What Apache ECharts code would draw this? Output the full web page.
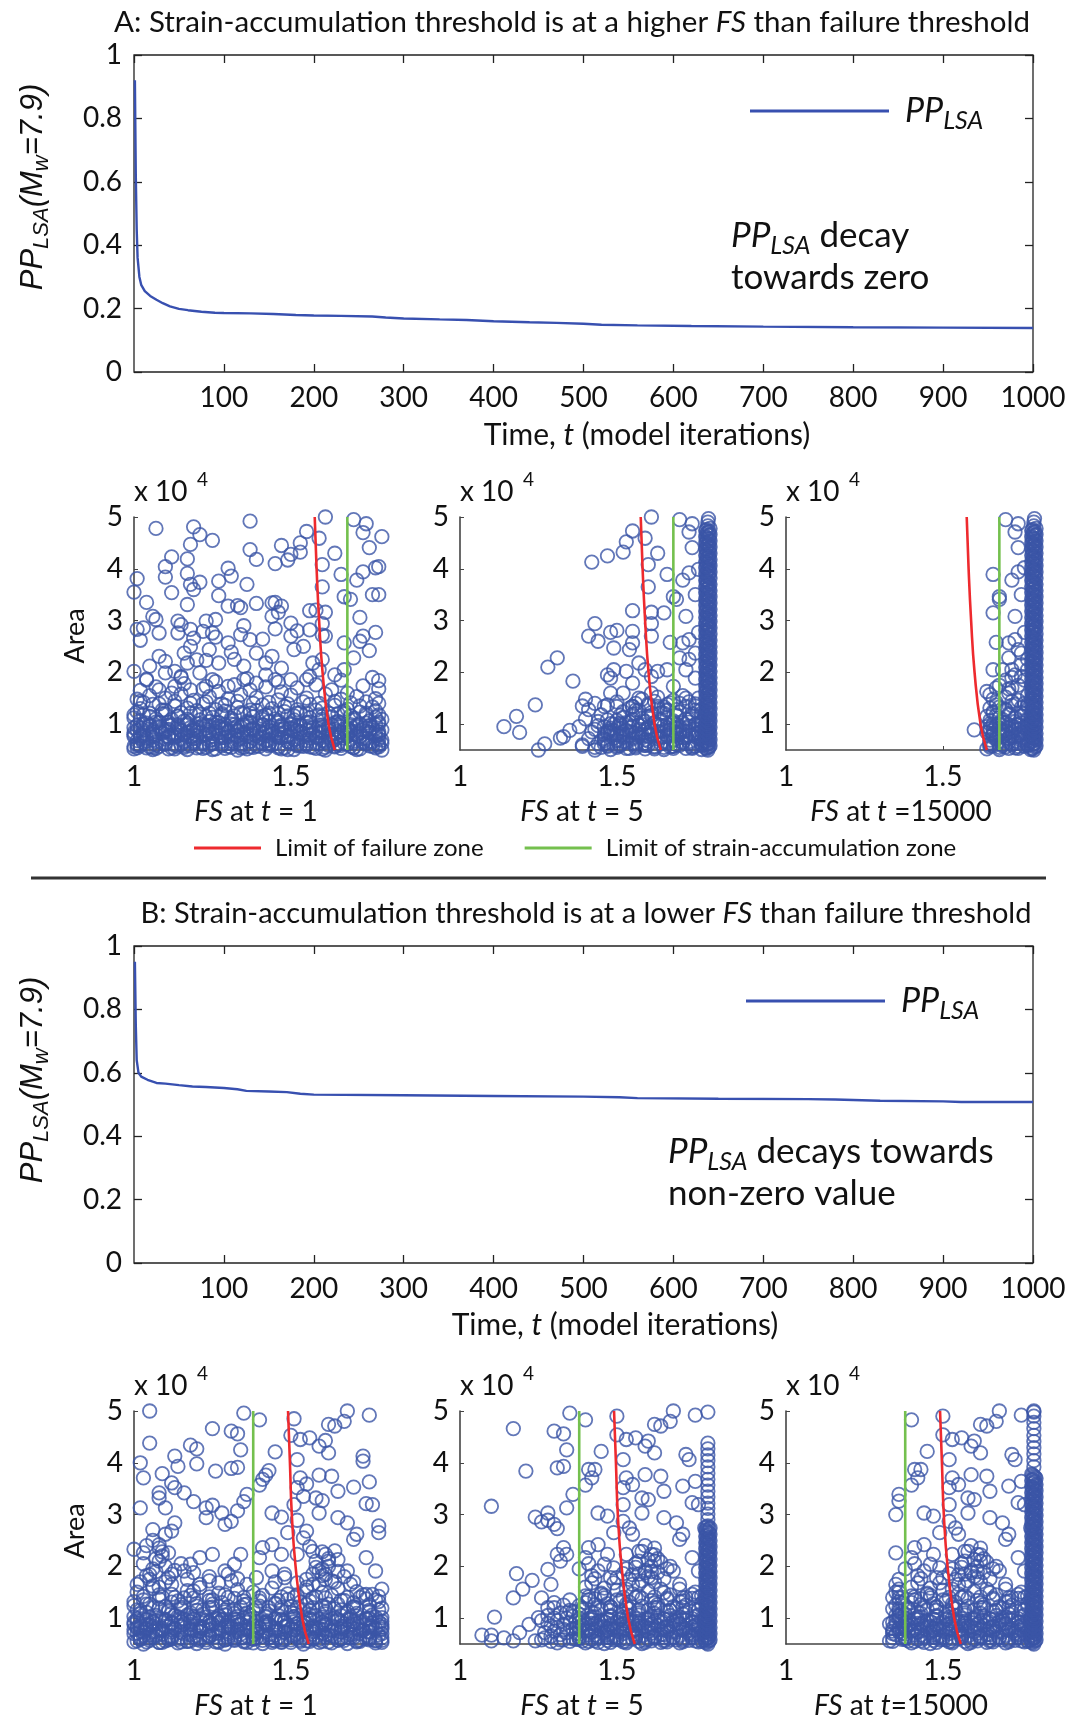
<!DOCTYPE html>
<html><head><meta charset="utf-8">
<script src="https://cdn.jsdelivr.net/npm/echarts@6/dist/echarts.min.js"></script>
<style>html,body{margin:0;padding:0;background:#fff}#c{width:1070px;height:1721px}</style>
</head><body><div id="c"></div>
<script>
// ---------- time series (t, PP_LSA) ----------
const timeA = [1,2,3,4,6,8,12,18,25,32,40,50,60,75,90,100,130,155,180,200,230,265,280,300,340,370,400,440,470,500,520,560,620,700,800,900,1000];
const ppA   = [0.92,0.62,0.45,0.36,0.30,0.275,0.255,0.24,0.228,0.217,0.207,0.199,0.195,0.19,0.187,0.186,0.185,0.183,0.18,0.178,0.177,0.175,0.172,0.169,0.166,0.164,0.16,0.157,0.155,0.152,0.149,0.147,0.145,0.143,0.141,0.14,0.139];
const timeB = [1,2,3,5,8,15,25,35,50,65,80,100,115,125,150,170,185,200,300,400,500,540,560,650,750,780,830,900,920,1000];
const ppB   = [0.95,0.75,0.64,0.60,0.588,0.578,0.568,0.566,0.561,0.557,0.555,0.552,0.548,0.543,0.541,0.539,0.534,0.531,0.529,0.527,0.525,0.523,0.52,0.518,0.517,0.516,0.512,0.51,0.508,0.508];

// ---------- threshold curves (FS, Area x10^4) ----------
const failA_fs   = [1.576,1.582,1.590,1.601,1.620,1.640];
const failA_area = [5,4,3,2,1,0.5];
const strainA_fs = 1.68;
const failB_fs   = [1.491,1.497,1.503,1.515,1.536,1.557];
const failB_area = [5,4,3,2,1,0.5];
const strainB_fs = 1.38;

// ---------- scatter points: flat pairs (FS*100, Area/100) ----------
const a1Sparse = [107,478,137,492,119,481,121,466,125,455,118,447,112,423,117,419,110,404,110,384,117,391,101,381,100,355,104,335,112,354,118,370,119,360,121,374,127,376,127,348,130,401,131,386,136,370,117,331,139,333,145,335,137,437,139,418,147,445,145,410,149,417,150,428,153,432,153,450,155,472,161,500,159,459,164,430,160,408,166,389,170,495,174,487,173,470,175,441,179,462,173,394,171,378,177,402,178,404,176,350,178,350,167,346,169,341,160,365,161,316,156,319,160,294,172,306,177,277,167,257,172,260,173,270,175,242,170,228,178,184,167,205,164,195,161,270,156,282,152,280,150,295,145,284,144,308,144,334,146,316,147,328,134,325,133,329,130,328,135,290,134,273,137,263,141,264,126,302,123,299,125,276,126,268,122,279,119,266,118,250,116,237,117,218,120,224,123,223,127,218,124,244,114,299,115,292,106,308,107,302,101,283,103,286,102,262,108,276,108,231,110,221,105,212,100,202,104,187,110,199,113,202,115,192,121,199,125,186,131,239,130,257,132,225,135,212,139,237,142,218,144,231,147,208,150,270,151,244,154,250,157,218,159,205,160,225,155,186,150,186,145,186,142,195,139,179,135,186,130,173,123,173,118,166,113,173,108,166,102,144,114,276,118,283,158,320,160,272];
const a1Low = [100,52,102,58,106,51,108,57,112,54,115,60,117,51,121,56,124,59,126,52,130,57,133,50,135,55,139,58,142,52,144,60,148,54,151,51,153,58,157,55,160,52,162,59,166,53,169,57,171,51,175,58,177,54,179,50,
101,68,104,73,107,66,110,71,113,75,116,67,119,72,122,65,125,70,128,74,131,67,134,72,137,66,140,73,143,69,146,75,149,66,152,71,155,68,158,74,161,65,164,70,167,73,170,67,173,72,176,66,178,71,
100,84,103,79,106,88,109,82,111,90,114,78,117,85,120,89,123,80,126,86,129,91,132,79,135,84,138,88,141,81,144,87,147,90,150,80,153,85,156,89,159,82,162,78,165,86,168,90,171,81,174,87,177,83,179,89,
101,97,104,102,108,95,111,104,114,99,118,93,121,101,124,105,127,96,131,100,134,94,137,103,140,98,143,105,147,95,150,101,153,97,156,104,160,94,163,99,166,103,169,96,172,101,175,97,178,104,
100,112,103,118,107,110,110,120,114,115,117,109,121,119,125,113,128,117,131,111,135,120,138,114,142,118,145,110,149,116,152,121,156,112,159,118,163,114,167,120,170,111,174,117,177,113,
102,130,106,138,109,127,113,135,117,131,122,139,126,128,129,136,133,132,137,127,141,137,144,130,148,134,152,128,156,138,160,131,164,136,168,129,172,135,176,133,178,140,
101,148,105,155,110,150,115,158,119,146,124,153,130,149,134,157,139,151,146,147,150,156,155,150,161,158,166,148,171,153,177,149];
const a1Low2 = [101,62,105,56,110,61,114,57,119,63,123,55,128,61,132,64,137,56,141,62,146,57,150,64,155,59,159,63,164,56,168,62,173,64,178,59,
102,77,106,81,111,76,116,80,120,78,125,82,130,76,135,80,139,77,144,81,149,78,154,82,158,76,163,80,168,79,172,82,177,77,
100,93,105,96,109,91,114,95,119,92,124,97,129,93,133,96,138,91,143,95,148,92,152,97,157,93,162,96,167,91,171,95,176,93,
102,107,107,104,112,109,116,106,121,108,126,104,131,107,136,105,141,109,146,106,151,108,155,104,160,109,165,105,170,108,175,106,179,109,
101,124,105,121,110,127,115,122,120,126,124,121,129,125,134,122,139,126,143,121,148,124,153,122,158,127,162,121,167,125,172,123,177,126,
103,142,108,139,113,144,118,140,123,143,128,139,133,144,138,140,143,142,149,139,154,143,159,140,164,144,169,141,174,143,
102,165,107,172,112,160,116,178,122,168,127,163,132,176,137,166,142,172,147,162,152,170,158,176,163,166,168,160,173,174,178,168,104,185,115,190,126,182,136,188,146,181,156,192,166,185,176,190];
const a1Low3 = [100,57,104,54,107,60,111,52,116,58,120,54,125,62,129,53,134,59,138,55,143,61,147,52,152,60,156,56,161,50,165,61,170,55,174,62,178,56,
102,72,106,69,111,74,115,70,120,73,124,68,129,74,133,70,138,73,142,68,147,74,151,70,156,73,160,68,165,74,169,70,174,73,179,69,
101,88,106,85,110,90,115,86,119,89,124,84,128,90,133,86,137,89,142,84,146,90,151,86,155,89,160,84,164,90,169,86,173,89,178,85,
103,100,108,103,112,99,117,102,122,98,127,103,132,99,136,102,141,98,146,103,150,99,155,102,160,98,164,103,169,99,174,102,178,100,
100,118,105,115,109,120,114,116,118,121,123,115,128,120,132,116,137,121,141,115,146,120,151,116,155,121,160,115,165,120,169,116,174,121,178,118];
const a1Low4 = [101,54,103,64,106,55,109,63,113,52,116,65,118,58,122,62,125,51,128,66,131,55,134,63,136,52,140,65,143,58,145,63,149,51,152,66,154,57,158,64,161,55,163,66,166,59,170,64,172,52,175,66,178,61,
100,76,103,83,107,79,110,86,113,81,117,77,120,85,123,78,127,83,130,86,133,77,136,82,140,86,143,78,146,83,149,76,152,88,156,79,159,84,162,88,165,76,168,83,171,78,175,84,178,80];
const a1Low5 = [101,59,104,67,107,53,110,64,113,59,116,55,119,66,122,53,125,64,128,58,131,62,134,54,137,67,140,57,143,63,146,54,149,66,152,58,155,63,158,53,161,67,164,58,167,63,170,54,173,66,176,57,179,63,
100,80,103,88,106,75,109,84,112,79,115,88,118,76,121,83,124,88,127,78,130,84,133,88,136,76,139,82,142,88,145,77,148,84,151,89,154,76,157,83,160,87,163,79,166,84,169,88,172,76,175,84,178,79,
102,92,105,99,108,93,111,98,114,92,117,99,120,93,123,98,126,92,129,99,132,93,135,98,138,92,141,99,144,93,147,98,150,92,153,99,156,93,159,98,162,92,165,99,168,93,171,98,174,92,177,99];

const a2Sparse = [161,500,155,473,153,452,152,432,147,425,142,413,159,459,163,430,160,408,160,365,170,495,174,487,173,471,174,441,166,389,171,378,173,392,176,399,168,346,169,341,175,350,155,319,161,316,165,315,172,308,161,294,143,294,141,270,148,277,150,281,155,279,144,260,149,247,154,244,155,257,161,270,167,258,171,257,173,263,176,277,131,228,128,210,136,183,124,137,118,115,114,95,119,84,140,148,139,135,135,88,133,76,132,73,127,62,125,50,139,57,143,50,144,62,143,90,144,105,146,134,147,137,147,195,148,189,149,205,153,202,155,179,157,218,159,205,161,192,163,202,166,205,168,173,172,205,173,225,175,237,175,189,170,228,172,150,152,160,148,160,150,134,155,134,157,150,161,160,163,134,166,128,147,108,151,102,147,83];
const a2Low = [145,55,148,51,151,58,154,53,156,60,159,52,162,57,165,51,167,56,170,59,172,53,175,57,177,51,179,55,
146,68,149,73,152,66,155,71,158,74,160,67,163,72,166,65,168,70,171,74,173,66,176,71,178,68,
147,86,150,80,153,88,156,83,159,90,161,79,164,85,167,89,169,81,172,87,174,80,177,86,179,90,
148,101,151,96,154,104,157,98,160,94,162,103,165,97,168,102,170,95,173,104,175,99,178,96,
152,113,155,119,158,111,161,117,164,121,166,112,169,118,172,110,174,116,177,121,
154,131,157,127,160,136,163,130,166,138,169,128,172,134,175,139,177,129,
158,148,163,152,168,146,171,155,176,150];
const a2Low2 = [146,62,150,58,155,63,159,59,164,62,168,57,173,63,177,59,148,78,152,80,157,76,161,80,166,77,170,80,175,76,178,79,
146,95,151,92,155,96,160,93,164,97,169,92,173,96,177,93,150,107,155,109,159,105,164,108,168,106,173,109,177,105,
152,124,156,127,161,122,166,126,170,123,175,127,150,143,156,140,162,144,167,141,173,143,
139,60,141,72,142,85,143,55,144,97,145,118,140,110,138,95,141,128,143,140];
const a2Low3 = [147,57,151,61,156,54,160,60,165,55,169,61,174,53,178,60,146,72,150,69,155,74,159,70,164,73,168,68,172,74,177,70,
148,88,152,85,157,90,161,86,166,89,170,84,175,90,179,86,149,100,153,103,158,99,162,102,167,98,171,103,176,99,
151,117,156,120,160,115,165,121,169,116,174,120,178,117,155,134,160,139,165,133,170,140,175,135];
const a2Low4 = [147,64,150,55,153,65,156,57,159,63,162,52,165,64,168,57,171,65,174,55,177,63,148,82,151,77,154,85,157,80,160,77,163,86,166,79,169,84,172,77,175,81,178,86];
const a2Low5 = [147,59,150,67,153,53,156,64,159,59,162,55,165,66,168,53,171,64,174,58,177,62,146,80,149,88,152,75,155,84,158,79,161,88,164,76,167,83,170,88,173,78,176,84,179,88,
148,92,151,99,154,93,157,98,160,92,163,99,166,93,169,98,172,92,175,99,178,93];

const a3Sparse = [170,495,174,487,173,471,174,441,166,389,172,378,174,394,176,402,175,350,168,346,168,341,166,315,173,308,176,277,167,258,171,257,173,263,174,244,175,237,171,228,166,205,172,205,175,192,164,163,165,157,167,170,172,170,160,89];
const a3Low = [164,52,166,58,168,51,170,56,172,60,174,53,176,57,178,51,
165,69,167,74,169,66,171,72,173,67,175,73,177,68,
164,84,166,89,168,80,170,87,172,82,174,90,176,84,178,88,
165,101,167,96,169,104,171,99,173,94,175,103,177,97,
164,115,166,121,168,112,171,118,173,113,176,120,178,114,
165,131,167,137,170,129,172,136,175,132,177,138,
166,148,170,152,174,146,177,155,171,168,174,175,176,185,172,190,169,205,175,215,177,225];
const a3Low2 = [165,62,169,58,173,63,177,59,166,78,170,80,174,76,178,79,164,95,168,92,172,96,176,93,165,107,169,109,173,105,177,108,
166,124,170,127,175,122,167,142,172,144,176,140,170,185,173,195,177,205,168,175,171,160];
const a3Low3 = [165,56,169,61,173,54,177,60,167,71,171,73,175,69,179,74,165,87,169,85,173,90,177,86,166,100,170,103,174,99,178,102,167,117,171,120,175,115,179,118,168,133,173,138,177,134];
const a3Low4 = [165,64,168,55,171,65,174,57,177,63,166,82,169,77,172,85,175,80,178,77];
const a3Low5 = [165,59,168,67,171,53,174,64,177,59,166,80,169,88,172,75,175,84,178,79,165,92,168,99,171,93,174,98,177,92];

// tall columns of points at the top FS value: flat pairs (FS*1000, Area/100)
const colLow = [1790,50,1783,54,1797,58,1790,62,1783,66,1797,70,1790,74,1783,78,1797,82,1790,86,1783,90,1797,94,1790,98,1783,102,1797,106,1790,110,1783,114,1797,118,1790,122,1783,126,1797,130,1790,134,1783,138,1797,142,1790,146,1783,150,1797,154,1790,158,1783,162,1797,166,1790,170,1783,174,1797,178,1790,182,1783,186,1797,190,1790,194,1783,198,1797,202,1790,206,1783,210,1797,214,1790,218,1783,222,1797,226,1790,230,1783,234,1797,238,1790,242,1783,246,1797,250,1790,254,1783,258,1797,262,1790,266,1783,270,1797,274,1790,278];
const colLowB = [1786,52,1794,56,1786,60,1794,64,1786,68,1794,72,1786,76,1794,80,1786,84,1794,88,1786,92,1794,96,1786,100,1794,104,1786,108,1794,112,1786,116,1794,120,1786,124,1794,128,1786,132,1794,136,1786,140,1794,144,1786,148,1794,152,1786,156,1794,160,1786,164,1794,168,1786,172,1794,176,1786,180,1794,184,1786,188,1794,192,1786,196,1794,200,1786,204,1794,208,1786,212,1794,216,1786,220,1794,224,1786,228,1794,232,1786,236,1794,240,1786,244,1794,248,1786,252,1794,256,1786,260,1794,264,1786,268,1794,272,1786,276];
const colMid = [1783,282,1797,286,1790,290,1783,294,1797,298,1790,302,1783,306,1797,310,1790,314,1783,318,1797,322,1790,326,1783,330,1797,334,1790,338,1783,342,1797,346,1790,350,1783,354,1797,358,1790,362,1783,366,1797,370,1790,374,1783,378];
const colMidB = [1786,280,1794,284,1786,288,1794,292,1786,296,1794,300,1786,304,1794,308,1786,312,1794,316,1786,320,1794,324,1786,328,1794,332,1786,336,1794,340,1786,344,1794,348,1786,352,1794,356,1786,360,1794,364,1786,368,1794,372,1786,376];
const colHigh = [1797,382,1790,386,1783,390,1797,394,1790,398,1783,402,1797,406,1790,410,1783,414,1797,418,1790,422,1783,426,1797,430,1790,434,1783,438,1797,442,1790,446,1783,450,1797,454,1790,458,1783,462,1797,466,1790,470,1783,474,1797,478,1790,483,1790,490,1792,497];
const colHighB = [1786,380,1794,384,1786,388,1794,392,1786,396,1794,400,1786,404,1794,408,1786,412,1794,416,1786,420,1794,424,1786,428,1794,432,1786,436,1794,440,1786,444,1794,448,1786,452,1794,456,1786,460,1794,464,1786,468,1794,472,1786,476];
const colB2Top = [1790,290,1790,301,1790,312,1790,322,1790,334,1790,345,1790,357,1790,368,1790,380,1790,392,1790,404,1790,415,1790,427,1790,438];
const colB3Top = [1790,392,1790,404,1790,417,1790,429,1790,441,1790,453,1790,466,1790,478,1790,490,1790,500];

const b1Sparse = [105,500,135,496,140,483,125,466,131,461,133,456,105,438,118,434,120,427,113,413,114,393,120,398,126,384,131,389,133,391,134,425,102,400,103,371,109,379,112,361,113,352,116,342,108,342,108,332,110,313,102,313,119,325,123,313,125,318,128,303,131,287,129,281,133,307,135,325,136,339,123,294,113,284,106,271,112,268,100,233,103,226,151,485,150,453,153,445,156,448,161,443,159,432,162,419,162,474,164,471,167,480,168,500,175,492,145,421,152,406,140,357,142,376,143,385,141,368,153,371,152,352,155,359,154,335,159,376,163,374,165,345,158,332,160,327,159,303,151,319,144,303,147,295,152,289,149,265,155,268,154,255,165,294,168,284,170,353,175,363,173,413,173,403,174,321,176,319,171,262,170,252,178,278,178,265,174,217,177,191,168,191,165,213,161,223,162,210,159,191,161,184,157,229,152,223,147,223,144,242,141,236,140,217,134,223,132,204,129,191,125,223,121,217,118,204,116,191,111,226,108,242,110,262,108,210,105,184,101,165,124,172,131,172,144,191,148,178,169,165,179,156,174,146,112,165,119,152,
106,250,108,235,109,220,110,200,107,190,112,185,105,175,110,170,108,160,158,210,160,195,162,200,157,185,161,175,164,170,159,165,155,160];
const b1Low = [100,54,103,50,105,57,109,53,111,59,114,52,118,56,120,51,123,58,127,55,129,50,132,57,136,53,138,59,141,51,145,56,147,53,150,58,154,50,156,55,159,59,163,52,165,57,168,51,172,55,174,60,177,52,179,57,
101,71,103,66,106,74,109,69,112,65,115,72,118,68,121,75,124,66,127,71,130,69,133,74,136,65,139,70,142,73,145,67,148,72,151,66,154,74,157,69,160,71,163,66,166,74,169,68,172,70,175,73,178,67,
100,88,102,81,105,86,108,79,112,90,115,83,118,88,121,80,124,85,127,91,130,82,133,87,136,79,139,85,142,90,145,81,149,87,152,83,155,90,158,79,161,86,164,82,167,89,170,80,173,86,176,91,179,83,
100,103,104,97,107,101,110,94,113,105,116,98,119,103,123,95,126,100,129,106,132,97,135,101,139,94,142,104,145,99,148,95,151,103,155,98,158,105,161,96,164,101,168,97,171,104,174,99,177,102,
101,116,104,111,108,119,111,113,115,118,118,110,122,116,125,121,129,112,132,117,136,110,139,119,143,114,147,121,150,111,154,116,157,120,161,112,164,118,168,113,171,119,175,111,178,116,
100,132,104,127,108,137,112,131,116,139,120,128,125,135,128,130,132,138,136,127,140,133,145,129,149,136,153,131,157,139,162,127,166,134,170,130,174,137,178,132,
101,150,106,157,112,146,117,153,121,159,127,148,133,155,138,150,144,158,149,147,155,154,160,149,165,157,171,151,176,146];
const b1Low2 = [102,60,106,63,111,58,115,62,120,59,124,64,129,58,134,62,138,60,143,63,147,58,152,62,157,59,161,64,166,60,170,63,175,58,179,62,
100,78,104,80,109,76,113,80,118,77,122,80,127,76,131,79,136,77,140,80,145,76,150,79,154,77,159,80,163,76,168,79,173,77,177,80,
101,95,106,92,110,96,115,93,119,97,124,92,128,96,133,93,137,97,142,92,147,96,151,93,156,97,160,92,165,96,170,93,174,97,179,94,
102,108,107,105,112,109,117,106,122,108,127,104,132,109,137,106,142,108,146,105,151,109,156,106,161,108,166,105,171,109,176,106,
100,124,105,127,110,122,115,126,120,123,125,127,130,122,135,126,140,123,145,127,150,122,155,126,160,123,165,127,170,122,175,126,
103,142,108,145,113,140,118,144,124,141,129,145,135,140,141,144,147,141,152,145,158,141,163,144,168,140,173,145,178,142,
102,170,104,182,106,195,103,205,107,215,109,228,104,240,106,162,111,178,113,192,115,205,117,175,119,188,121,165,124,180,127,168,130,185,133,176,
155,175,157,165,160,182,163,172,165,190,158,198,162,215,160,228,156,238,164,230,167,180,170,170,152,168,148,185,145,170,139,178,136,165];
const b1Low3 = [101,56,105,61,108,53,112,60,117,55,121,61,126,54,130,60,135,56,139,62,144,53,148,59,153,55,157,61,162,54,166,60,171,56,175,61,179,53,
100,70,103,73,107,68,112,73,116,69,121,74,125,68,130,73,134,69,139,74,143,68,148,73,152,69,157,74,161,68,166,73,170,69,175,74,179,70,
102,86,107,89,111,84,116,90,120,85,125,89,129,84,134,90,138,85,143,89,148,84,152,90,157,85,161,89,166,84,171,90,175,85,179,88,
101,99,105,102,110,98,114,103,119,99,123,102,128,98,133,103,137,99,142,102,147,98,151,103,156,99,160,102,165,98,169,103,174,99,179,101,
102,115,106,120,111,116,115,121,120,115,124,120,129,116,134,121,138,115,143,120,147,116,152,121,156,115,161,120,166,116,170,121,175,115,179,119,
103,135,109,141,114,133,119,139,124,134,130,140,135,133,140,139,146,134,151,140,156,133,161,139,167,134,172,140,177,135];
const b1Low4 = [102,64,104,54,107,65,110,56,112,63,115,54,119,64,121,57,124,65,127,53,130,64,132,59,135,62,138,52,141,64,144,57,146,63,150,53,152,65,155,56,158,63,160,55,164,64,167,57,169,62,172,58,175,64,177,56,
101,82,104,77,106,85,109,80,112,77,115,86,118,79,121,84,124,77,127,81,130,86,133,78,136,83,139,76,142,86,145,79,148,83,151,77,154,86,157,81,160,78,163,85,166,79,169,84,172,77,175,81,178,86];
const b1Low5 = [102,59,105,67,108,53,111,64,114,59,117,55,120,66,123,53,126,64,129,58,132,62,135,54,138,67,141,57,144,63,147,54,150,66,153,58,156,63,159,53,162,67,165,58,168,63,171,54,174,66,177,57,
101,80,104,88,107,75,110,84,113,79,116,88,119,76,122,83,125,88,128,78,131,84,134,88,137,76,140,82,143,88,146,77,149,84,152,89,155,76,158,83,161,87,164,79,167,84,170,88,173,76,176,84,179,79,
100,92,103,99,106,93,109,98,112,92,115,99,118,93,121,98,124,92,127,99,130,93,133,98,136,92,139,99,142,93,145,98,148,92,151,99,154,93,157,98,160,92,163,99,166,93,169,98,172,92,175,99,178,93];

// panel B, t=5 and t=15000 share the points above the strain threshold
const bRightSparse = [140,483,145,422,141,387,143,387,142,371,140,357,150,490,150,454,153,445,156,448,160,442,159,432,162,419,162,474,164,471,167,480,168,500,175,492,179,498,152,406,153,371,152,352,155,358,152,319,159,377,164,374,165,345,158,332,160,329,158,303,144,303,147,297,152,287,149,265,155,262,154,274,165,294,169,284,171,355,175,364,172,416,173,406,174,323,176,319,171,262,170,252,178,274,174,217,176,191,168,191,161,223,162,210,159,188,157,229,153,223,147,223,144,242,141,236,140,217,146,204,149,197,144,191,148,178,155,184,161,178,157,165,153,156,164,156,170,165,174,146,171,139,142,168,145,146,140,143];
const bLow = [137,59,140,52,143,56,146,51,149,58,152,54,155,60,158,51,161,56,164,53,167,59,170,52,173,57,176,54,178,60,
137,71,140,75,143,67,146,72,149,65,152,70,155,74,158,66,161,71,164,68,167,73,170,66,173,71,176,69,178,74,
136,80,139,86,142,90,145,82,148,87,151,79,154,85,157,90,160,81,163,86,166,83,169,89,172,80,175,87,178,82,
136,104,139,96,142,102,145,95,148,103,151,98,154,105,157,94,160,100,163,104,166,97,169,102,172,96,175,103,178,99,
136,113,139,119,142,111,145,117,148,121,151,112,154,118,157,110,160,116,163,121,166,113,169,119,172,111,175,117,
140,130,143,137,147,128,150,135,154,131,158,138,162,129,166,136,170,132,174,138,177,128,
145,148,150,154,155,147,160,152,165,149,170,156,175,150,
155,165,158,172,160,180,162,170,157,185,159,192,161,200,163,188,156,205,160,213,162,222,164,208,158,229,153,195,166,195,150,178];
const bLow2 = [138,62,142,59,147,63,151,58,156,62,160,59,165,63,169,58,174,62,178,57,138,78,143,80,147,76,152,79,156,77,161,80,166,76,170,79,175,77,
137,94,142,97,146,93,151,96,155,92,160,97,164,93,169,96,174,92,178,95,138,107,143,109,148,105,152,108,157,106,162,109,167,105,171,108,176,106,
138,124,143,126,148,122,153,127,158,123,163,126,168,122,172,125,177,123,141,141,146,144,152,140,157,143,162,141,167,145,172,140,177,143,
152,186,156,198,161,190,163,215,157,210,154,175,165,176,167,200,159,240,162,235,149,168,146,158,140,160,142,182,138,195,141,205,143,176];
const bLow3 = [139,56,144,61,148,53,153,60,157,55,162,61,166,54,171,60,175,56,179,62,138,69,142,73,147,68,151,73,156,69,160,74,165,68,169,73,174,69,178,72,
139,86,143,89,148,84,152,90,157,85,161,89,166,84,170,90,175,85,179,88,138,100,143,103,147,98,152,102,156,99,161,103,165,98,170,102,174,99,178,101,
139,116,144,120,148,115,153,121,157,116,162,120,167,115,171,121,176,116,141,135,146,139,151,133,156,140,161,134,166,139,171,133,176,140];
const bLow4 = [138,64,141,55,144,65,147,57,150,63,153,52,156,64,159,57,162,65,165,55,168,63,171,57,174,64,177,55,
138,82,141,77,144,85,147,80,150,77,153,86,156,79,159,84,162,77,165,81,168,86,171,78,174,83,177,77];
const bLow5 = [138,59,141,67,144,53,147,64,150,59,153,55,156,66,159,53,162,64,165,58,168,62,171,54,174,67,177,57,
137,80,140,88,143,75,146,84,149,79,152,88,155,76,158,83,161,88,164,78,167,84,170,88,173,76,176,84,179,79,
138,92,141,99,144,93,147,98,150,92,153,99,156,93,159,98,162,92,165,99,168,93,171,98,174,92,177,99];
const b2LeftSparse = [117,466,110,316,121,384,124,295,128,303,128,289,130,281,131,273,126,286,118,186,123,173,120,156,117,139,111,102,107,67,110,67,114,62,117,56,110,56,119,72,122,88,125,101,124,56,126,139,129,165,128,194,131,223,130,461,133,456,135,496,134,425,131,390,133,393,134,313,136,339,133,236,134,223,132,210];
const b2LowLeft = [127,62,129,55,130,75,131,52,132,68,133,88,133,58,134,100,134,72,135,115,135,55,129,85,131,95,132,110,130,120,128,105,126,95,
127,72,128,90,129,65,130,100,131,82,132,58,133,78,134,110,135,92,126,58,128,120,130,130,133,125,135,135,136,60];
const b3LeftSparse = [136,339,136,326,135,300,135,226,136,156,136,139,133,89,134,75];
const b3LowLeft = [134,55,135,68,136,80,134,92,135,105,136,118,137,130,134,62,136,74,135,88,136,98,137,110,134,140,135,150,
134,118,135,125,136,132,137,140,134,80,135,95,136,105,137,88,133,56,134,70,136,150,135,165,136,175];

// ---------- helpers ----------
function pairs(...arrs){const out=[];arrs.forEach(a=>{for(let i=0;i+1<a.length;i+=2)out.push([a[i]/100,a[i+1]/100]);});return out;}
function pairsK(...arrs){const out=[];arrs.forEach(a=>{for(let i=0;i+1<a.length;i+=2)out.push([a[i]/1000,a[i+1]/100]);});return out;}
function zip(xs,ys){return xs.map((x,i)=>[x,ys[i]]);}

const BLUE='#3b55a6', LINEBLUE='#3850b0', RED='#ee2a2e', GREEN='#74c04e', AX='#222';
const FONT='Lato';

const chart = echarts.init(document.getElementById('c'));

const grids=[], xAxes=[], yAxes=[], series=[];
function lineGrid(top){
  const gi=grids.length;
  grids.push({left:134, top:top, width:899, height:317, show:true, borderColor:AX, borderWidth:1.3, backgroundColor:'transparent'});
  const tick={inside:true,length:8,lineStyle:{color:AX,width:1.3}};
  xAxes.push({gridIndex:gi,type:'value',min:0,max:1000,interval:100,axisLine:{show:false,onZero:false},axisTick:tick,
    axisLabel:{showMinLabel:false,fontFamily:FONT,fontSize:28,color:'#111',margin:12,formatter:v=>String(v)},splitLine:{show:false}});
  xAxes.push({gridIndex:gi,type:'value',position:'top',min:0,max:1000,interval:100,axisLine:{show:false,onZero:false},axisTick:tick,axisLabel:{show:false},splitLine:{show:false}});
  yAxes.push({gridIndex:gi,type:'value',min:0,max:1,interval:0.2,axisLine:{show:false,onZero:false},axisTick:tick,
    axisLabel:{fontFamily:FONT,fontSize:28,color:'#111',margin:12},splitLine:{show:false}});
  yAxes.push({gridIndex:gi,type:'value',position:'right',min:0,max:1,interval:0.2,axisLine:{show:false,onZero:false},axisTick:tick,axisLabel:{show:false},splitLine:{show:false}});
  return {x:xAxes.length-2,y:yAxes.length-2};
}
function scatterGrid(left,top){
  const gi=grids.length;
  grids.push({left:left, top:top, width:251, height:233});
  xAxes.push({gridIndex:gi,type:'value',min:1,max:1.8,axisLine:{show:true,onZero:false,lineStyle:{color:'#444',width:1.6}},
    axisTick:{inside:true,length:4,customValues:[1.5],lineStyle:{color:'#444'}},
    axisLabel:{customValues:[1,1.5],fontFamily:FONT,fontSize:28,color:'#111',margin:13,formatter:v=>String(v)},splitLine:{show:false}});
  yAxes.push({gridIndex:gi,type:'value',min:0.5,max:5,axisLine:{show:true,onZero:false,lineStyle:{color:'#444',width:1.6}},
    axisTick:{inside:true,length:4,customValues:[1,2,3,4,5],lineStyle:{color:'#444'}},
    axisLabel:{customValues:[1,2,3,4,5],fontFamily:FONT,fontSize:28,color:'#111',margin:11,formatter:v=>String(v)},splitLine:{show:false}});
  return {x:xAxes.length-1,y:yAxes.length-1};
}

const LA=lineGrid(55), LB=lineGrid(946);
series.push({type:'line',name:'PP_LSA',xAxisIndex:LA.x,yAxisIndex:LA.y,data:zip(timeA,ppA),symbol:'none',lineStyle:{color:LINEBLUE,width:2.4},itemStyle:{color:LINEBLUE}});
series.push({type:'line',name:'PP_LSA',xAxisIndex:LB.x,yAxisIndex:LB.y,data:zip(timeB,ppB),symbol:'none',lineStyle:{color:LINEBLUE,width:2.4},itemStyle:{color:LINEBLUE}});

const colAll = pairsK(colLow,colLowB,colMid,colMidB,colHigh,colHighB);
const panels=[
  {left:134,top:517,pts:pairs(a1Sparse,a1Low,a1Low2,a1Low3,a1Low4,a1Low5),fail:zip(failA_fs,failA_area),strain:strainA_fs},
  {left:460,top:517,pts:pairs(a2Sparse,a2Low,a2Low2,a2Low3,a2Low4,a2Low5).concat(colAll),fail:zip(failA_fs,failA_area),strain:strainA_fs},
  {left:786,top:517,pts:pairs(a3Sparse,a3Low,a3Low2,a3Low3,a3Low4,a3Low5).concat(colAll),fail:zip(failA_fs,failA_area),strain:strainA_fs},
  {left:134,top:1411,pts:pairs(b1Sparse,b1Low,b1Low2,b1Low3,b1Low4,b1Low5),fail:zip(failB_fs,failB_area),strain:strainB_fs},
  {left:460,top:1411,pts:pairs(bRightSparse,b2LeftSparse,bLow,bLow2,bLow3,bLow4,bLow5,b2LowLeft).concat(pairsK(colLow,colLowB,colB2Top)),fail:zip(failB_fs,failB_area),strain:strainB_fs},
  {left:786,top:1411,pts:pairs(bRightSparse,b3LeftSparse,bLow,bLow2,bLow3,bLow4,bLow5,b3LowLeft).concat(pairsK(colLow,colLowB,colMid,colMidB,colB3Top)),fail:zip(failB_fs,failB_area),strain:strainB_fs}
];
const lineSeries=[];
panels.forEach((p,i)=>{
  const ax=scatterGrid(p.left,p.top);
  series.push({type:'scatter',name:'Area vs FS '+(i+1),xAxisIndex:ax.x,yAxisIndex:ax.y,data:p.pts,symbol:'circle',symbolSize:13.5,
    itemStyle:{color:'rgba(0,0,0,0)',borderColor:BLUE,borderWidth:1.8},emphasis:{disabled:true}});
  lineSeries.push({type:'line',name:'Limit of failure zone',xAxisIndex:ax.x,yAxisIndex:ax.y,data:p.fail,smooth:true,symbol:'none',lineStyle:{color:RED,width:2.6},itemStyle:{color:RED},z:5});
  lineSeries.push({type:'line',name:'Limit of strain-accumulation zone',xAxisIndex:ax.x,yAxisIndex:ax.y,data:[[p.strain,0.5],[p.strain,5]],symbol:'none',lineStyle:{color:GREEN,width:2.6},itemStyle:{color:GREEN},z:5});
});
series.push(...lineSeries);

// ---------- text ----------
const T='#111';
function txt(x,y,rich,text,opt){
  return Object.assign({type:'text',x:x,y:y,silent:true,style:{text:text,rich:rich,fill:T,align:(opt&&opt.align)||'left',verticalAlign:'middle',font:'25px Lato'}},opt&&opt.extra||{});
}
function mk(sz){return {n:{fontFamily:FONT,fontSize:sz,color:T},i:{fontFamily:FONT,fontSize:sz,fontStyle:'italic',color:T}};}
const richTitle=mk(29.5), richTitleB=mk(29), richFS=mk(28), richTime=mk(30), richArea=mk(27);
const richYName={
  i:{fontFamily:'Liberation Sans',fontStyle:'italic',fontSize:31,color:T},
  s:{fontFamily:'Liberation Sans',fontStyle:'italic',fontSize:22,color:T,padding:[18,0,0,0]}};
const richAnn={
  i:{fontFamily:FONT,fontStyle:'italic',fontSize:35,color:T},
  s:{fontFamily:FONT,fontStyle:'italic',fontSize:25,color:T,padding:[20,0,0,0]},
  n:{fontFamily:FONT,fontSize:35,color:T}};
const richLeg={
  i:{fontFamily:FONT,fontStyle:'italic',fontSize:34,color:T},
  s:{fontFamily:FONT,fontStyle:'italic',fontSize:25,color:T,padding:[20,0,0,0]}};

const graphics=[
  txt(572,22,richTitle,'{n|A: Strain-accumulation threshold is at a higher }{i|FS}{n| than failure threshold}',{align:'center'}),
  txt(586,914,richTitleB,'{n|B: Strain-accumulation threshold is at a lower }{i|FS}{n| than failure threshold}',{align:'center'}),
  txt(647,435,richTime,'{n|Time, }{i|t}{n| (model iterations)}',{align:'center'}),
  txt(615,1325,richTime,'{n|Time, }{i|t}{n| (model iterations)}',{align:'center'}),
  txt(33,187,richYName,'{i|PP}{s|LSA}{i|(M}{s|w}{i|=7.9)}',{align:'center',extra:{rotation:Math.PI/2}}),
  txt(33,1080,richYName,'{i|PP}{s|LSA}{i|(M}{s|w}{i|=7.9)}',{align:'center',extra:{rotation:Math.PI/2}}),
  txt(731,236,richAnn,'{i|PP}{s|LSA}{n| decay}'),
  txt(731,278,richAnn,'{n|towards zero}'),
  txt(668,1152,richAnn,'{i|PP}{s|LSA}{n| decays towards}'),
  txt(668,1194,richAnn,'{n|non-zero value}'),
  txt(75,636,richArea,'{n|Area}',{align:'center',extra:{rotation:Math.PI/2}}),
  txt(75,1531,richArea,'{n|Area}',{align:'center',extra:{rotation:Math.PI/2}}),
  txt(256,812,richFS,'{i|FS}{n| at }{i|t}{n| = 1}',{align:'center'}),
  txt(582,812,richFS,'{i|FS}{n| at }{i|t}{n| = 5}',{align:'center'}),
  txt(901,812,richFS,'{i|FS}{n| at }{i|t}{n| =15000}',{align:'center'}),
  txt(256,1706,richFS,'{i|FS}{n| at }{i|t}{n| = 1}',{align:'center'}),
  txt(582,1706,richFS,'{i|FS}{n| at }{i|t}{n| = 5}',{align:'center'}),
  txt(901,1706,richFS,'{i|FS}{n| at }{i|t}{n|=15000}',{align:'center'}),
  {type:'line',silent:true,shape:{x1:31,y1:878,x2:1046,y2:878},style:{stroke:'#333',lineWidth:3}}
];
[[134,492],[460,492],[786,492],[134,1386],[460,1386],[786,1386]].forEach(p=>{
  graphics.push(txt(p[0],p[1],richFS,'{n|x 10}'));
  graphics.push({type:'text',x:p[0]+63,y:p[1]-12,silent:true,style:{text:'4',fill:T,font:'19px Lato',verticalAlign:'middle'}});
});

chart.setOption({
  animation:false,
  backgroundColor:'#fff',
  grid:grids, xAxis:xAxes, yAxis:yAxes, series:series,
  legend:[
    {data:['PP_LSA'],left:750,top:94,padding:0,icon:'rect',itemWidth:139,itemHeight:3,selectedMode:false,formatter:()=>'{i|PP}{s|LSA}',textStyle:{rich:richLeg,padding:[0,0,0,11]}},
    {data:['PP_LSA'],left:746,top:984,padding:0,icon:'rect',itemWidth:139,itemHeight:3,selectedMode:false,formatter:()=>'{i|PP}{s|LSA}',textStyle:{rich:richLeg,padding:[0,0,0,11]}},
    {data:['Limit of failure zone','Limit of strain-accumulation zone'],left:194,top:836,padding:0,icon:'rect',itemWidth:67,itemHeight:3,itemGap:41,selectedMode:false,
      textStyle:{fontFamily:FONT,fontSize:24,color:T,padding:[0,0,0,9]}}
  ],
  graphic:graphics
});
</script></body></html>
